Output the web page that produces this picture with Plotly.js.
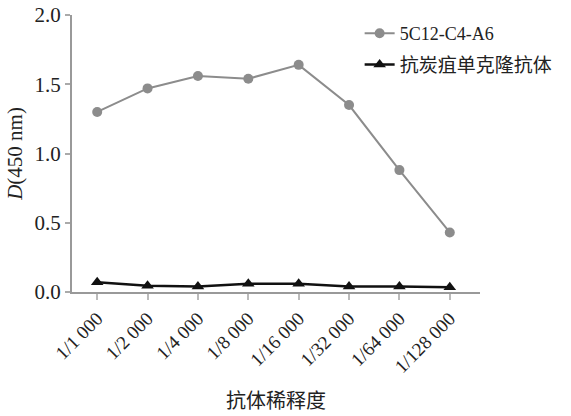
<!DOCTYPE html>
<html>
<head>
<meta charset="utf-8">
<script src="https://cdn.plot.ly/plotly-3.0.1.min.js"></script>
<style>html,body{margin:0;padding:0;background:#fff;}#chart{width:571px;height:416px;}</style>
</head>
<body>
<div id="chart"></div>
<script>
const categories = ["1/1 000","1/2 000","1/4 000","1/8 000","1/16 000","1/32 000","1/64 000","1/128 000"];
const seriesA = [1.30, 1.47, 1.56, 1.54, 1.64, 1.35, 0.88, 0.43];
const seriesB = [0.07, 0.045, 0.04, 0.06, 0.06, 0.04, 0.04, 0.035];
const nameA = "5C12-C4-A6";
const nameB = "抗炭疽单克隆抗体";
const yTicks = [0, 0.5, 1.0, 1.5, 2.0];
const yTickText = ["0.0","0.5","1.0","1.5","2.0"];
const xTitle = "抗体稀释度";

const FONT = "'Liberation Serif', 'Times New Roman', 'Noto Sans CJK SC', serif";
const xIdx = categories.map((c,i)=>i);

const traces = [
  {x: xIdx, y: seriesA, name: nameA, legendgroup: "a", type: "scatter", mode: "lines+markers",
   line: {color: "#8c8c8c", width: 2}, marker: {color: "#8c8c8c", size: 10, symbol: "circle"}},
  {x: xIdx, y: seriesB, name: '<span style="font-size:19px">' + nameB + '</span>', legendgroup: "b", type: "scatter", mode: "lines+markers",
   line: {color: "#111111", width: 2.5}, marker: {color: "#111111", size: 11, symbol: "triangle-up"}}
];

const layout = {
  width: 571, height: 416,
  margin: {l: 72, r: 91, t: 15, b: 124},
  paper_bgcolor: "#fff", plot_bgcolor: "#fff",
  font: {family: FONT, color: "#222", size: 18},
  showlegend: true,
  legend: {x: 0.705, y: 1.0, xanchor: "left", yanchor: "top", bgcolor: "rgba(0,0,0,0)",
           font: {family: FONT, size: 18, color: "#222"}, tracegroupgap: 5, itemwidth: 30},
  xaxis: {
    range: [-0.5, 7.6], tickmode: "array", tickvals: xIdx, ticktext: categories,
    tickangle: -45, ticks: "outside", ticklen: 6, tickcolor: "#bbb", tickwidth: 2,
    showline: true, linecolor: "#999", linewidth: 2, showgrid: false, zeroline: false,
    tickfont: {family: FONT, size: 19, color: "#222"},
    title: {text: xTitle, font: {family: FONT, size: 20, color: "#222"}, standoff: 18}
  },
  yaxis: {
    range: [0, 2.0], tickmode: "array", tickvals: yTicks, ticktext: yTickText,
    ticks: "outside", ticklen: 5, tickcolor: "#aaa", tickwidth: 2,
    showline: true, linecolor: "#999", linewidth: 2, showgrid: false, zeroline: false,
    tickfont: {family: FONT, size: 21, color: "#222"},
    title: {text: "<i>D</i>(450 nm)", font: {family: FONT, size: 21, color: "#222"}, standoff: 6}
  }
};

Plotly.newPlot("chart", traces, layout, {displayModeBar: false, staticPlot: true});
</script>
</body>
</html>
